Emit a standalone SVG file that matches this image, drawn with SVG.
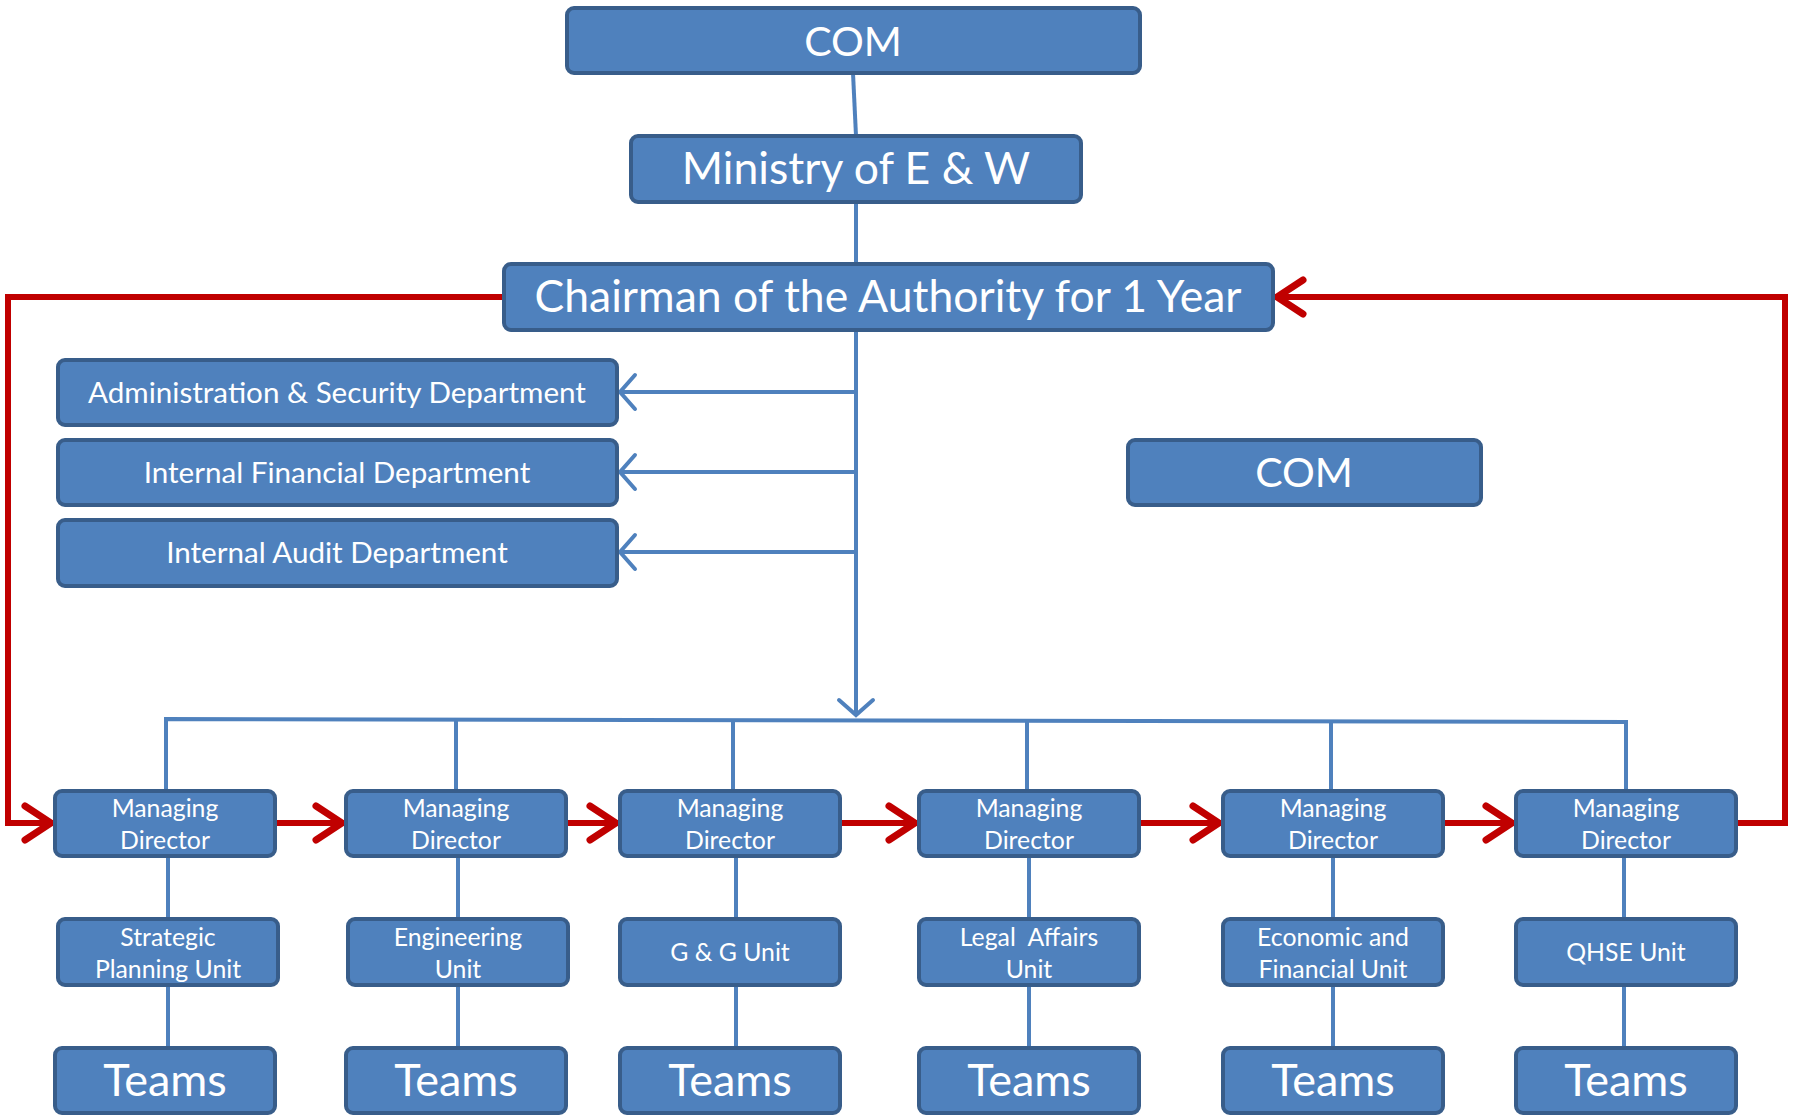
<svg xmlns="http://www.w3.org/2000/svg" width="1797" height="1117" viewBox="0 0 1797 1117">
<defs>
<style>
.box{fill:#4F81BD;stroke:#385D8A;stroke-width:4}
.t{fill:#fff;font-family:Lato,"Open Sans","Noto Sans",sans-serif;text-anchor:middle}
.big{font-size:44.5px}
.com{font-size:41px}
.tm{font-size:45px}
.dept{font-size:29.6px}
.sm{font-size:24.8px}
.blue{stroke:#4F81BD;stroke-width:4;fill:none}
.red{stroke:#C00000;stroke-width:6;fill:none}
</style>
<marker id="ra" viewBox="-36 -24 40 48" refX="2" refY="0" markerWidth="40" markerHeight="48" markerUnits="userSpaceOnUse" orient="auto">
<path d="M-26,-17 L0,0 L-26,17" fill="none" stroke="#C00000" stroke-width="7" stroke-linecap="round"/>
</marker>
<marker id="ba" viewBox="-20 -22 24 44" refX="1" refY="0" markerWidth="24" markerHeight="44" markerUnits="userSpaceOnUse" orient="auto">
<path d="M-15,-17 L0,0 L-15,17" fill="none" stroke="#4F81BD" stroke-width="4" stroke-linecap="round"/>
</marker>
</defs>
<rect width="1797" height="1117" fill="#fff"/>
<g id="connectors">
<line class="blue" x1="853" y1="73" x2="856" y2="136"/>
<line class="blue" x1="856" y1="202" x2="856" y2="264"/>
<line class="blue" x1="856" y1="330" x2="856" y2="716" marker-end="url(#ba)"/>
<line class="blue" x1="856" y1="392" x2="619" y2="392" marker-end="url(#ba)"/>
<line class="blue" x1="856" y1="472" x2="619" y2="472" marker-end="url(#ba)"/>
<line class="blue" x1="856" y1="552" x2="619" y2="552" marker-end="url(#ba)"/>
<polyline class="blue" points="166,791 166,719 1626,722 1626,791"/>
<line class="blue" x1="456" y1="720" x2="456" y2="791"/>
<line class="blue" x1="733" y1="720" x2="733" y2="791"/>
<line class="blue" x1="1027" y1="721" x2="1027" y2="791"/>
<line class="blue" x1="1331" y1="721" x2="1331" y2="791"/>
<line class="blue" x1="168" y1="856" x2="168" y2="919"/>
<line class="blue" x1="168" y1="985" x2="168" y2="1048"/>
<line class="blue" x1="458" y1="856" x2="458" y2="919"/>
<line class="blue" x1="458" y1="985" x2="458" y2="1048"/>
<line class="blue" x1="736" y1="856" x2="736" y2="919"/>
<line class="blue" x1="736" y1="985" x2="736" y2="1048"/>
<line class="blue" x1="1029" y1="856" x2="1029" y2="919"/>
<line class="blue" x1="1029" y1="985" x2="1029" y2="1048"/>
<line class="blue" x1="1333" y1="856" x2="1333" y2="919"/>
<line class="blue" x1="1333" y1="985" x2="1333" y2="1048"/>
<line class="blue" x1="1624" y1="856" x2="1624" y2="919"/>
<line class="blue" x1="1624" y1="985" x2="1624" y2="1048"/>
<polyline class="red" points="504,297 8,297 8,823 53,823" marker-end="url(#ra)"/>
<polyline class="red" points="1736,823 1785,823 1785,297 1275,297" marker-end="url(#ra)"/>
<line class="red" x1="275" y1="823" x2="344" y2="823" marker-end="url(#ra)"/>
<line class="red" x1="566" y1="823" x2="618" y2="823" marker-end="url(#ra)"/>
<line class="red" x1="840" y1="823" x2="917" y2="823" marker-end="url(#ra)"/>
<line class="red" x1="1139" y1="823" x2="1221" y2="823" marker-end="url(#ra)"/>
<line class="red" x1="1443" y1="823" x2="1514" y2="823" marker-end="url(#ra)"/>
</g>
<g id="com-top"><rect class="box" x="567" y="8" width="573" height="65" rx="7"/><text class="t com" x="853" y="56">COM</text></g>
<g id="ministry"><rect class="box" x="631" y="136" width="450" height="66" rx="7"/><text class="t big" x="856" y="184">Ministry of E &amp; W</text></g>
<g id="chairman"><rect class="box" x="504" y="264" width="769" height="66" rx="7"/><text class="t big" x="888" y="312">Chairman of the Authority for 1 Year</text></g>
<g id="admin"><rect class="box" x="58" y="360" width="559" height="65" rx="7"/><text class="t dept" x="337" y="403">Administration &amp; Security Department</text></g>
<g id="fin"><rect class="box" x="58" y="440" width="559" height="65" rx="7"/><text class="t dept" x="337" y="483">Internal Financial Department</text></g>
<g id="audit"><rect class="box" x="58" y="520" width="559" height="66" rx="7"/><text class="t dept" x="337" y="563">Internal Audit Department</text></g>
<g id="com-right"><rect class="box" x="1128" y="440" width="353" height="65" rx="7"/><text class="t com" x="1304" y="487">COM</text></g>
<g id="md1"><rect class="box" x="55" y="791" width="220" height="65" rx="7"/><text class="t sm" x="165" y="817">Managing</text><text class="t sm" x="165" y="849">Director</text></g>
<g id="md2"><rect class="box" x="346" y="791" width="220" height="65" rx="7"/><text class="t sm" x="456" y="817">Managing</text><text class="t sm" x="456" y="849">Director</text></g>
<g id="md3"><rect class="box" x="620" y="791" width="220" height="65" rx="7"/><text class="t sm" x="730" y="817">Managing</text><text class="t sm" x="730" y="849">Director</text></g>
<g id="md4"><rect class="box" x="919" y="791" width="220" height="65" rx="7"/><text class="t sm" x="1029" y="817">Managing</text><text class="t sm" x="1029" y="849">Director</text></g>
<g id="md5"><rect class="box" x="1223" y="791" width="220" height="65" rx="7"/><text class="t sm" x="1333" y="817">Managing</text><text class="t sm" x="1333" y="849">Director</text></g>
<g id="md6"><rect class="box" x="1516" y="791" width="220" height="65" rx="7"/><text class="t sm" x="1626" y="817">Managing</text><text class="t sm" x="1626" y="849">Director</text></g>
<g id="u1"><rect class="box" x="58" y="919" width="220" height="66" rx="7"/><text class="t sm" x="168" y="946">Strategic</text><text class="t sm" x="168" y="978">Planning Unit</text></g>
<g id="u2"><rect class="box" x="348" y="919" width="220" height="66" rx="7"/><text class="t sm" x="458" y="946">Engineering</text><text class="t sm" x="458" y="978">Unit</text></g>
<g id="u3"><rect class="box" x="620" y="919" width="220" height="66" rx="7"/><text class="t sm" x="730" y="961">G &amp; G Unit</text></g>
<g id="u4"><rect class="box" x="919" y="919" width="220" height="66" rx="7"/><text class="t sm" x="1029" y="946">Legal&#160; Affairs</text><text class="t sm" x="1029" y="978">Unit</text></g>
<g id="u5"><rect class="box" x="1223" y="919" width="220" height="66" rx="7"/><text class="t sm" x="1333" y="946">Economic and</text><text class="t sm" x="1333" y="978">Financial Unit</text></g>
<g id="u6"><rect class="box" x="1516" y="919" width="220" height="66" rx="7"/><text class="t sm" x="1626" y="961">QHSE Unit</text></g>
<g id="t1"><rect class="box" x="55" y="1048" width="220" height="65" rx="7"/><text class="t tm" x="165" y="1096">Teams</text></g>
<g id="t2"><rect class="box" x="346" y="1048" width="220" height="65" rx="7"/><text class="t tm" x="456" y="1096">Teams</text></g>
<g id="t3"><rect class="box" x="620" y="1048" width="220" height="65" rx="7"/><text class="t tm" x="730" y="1096">Teams</text></g>
<g id="t4"><rect class="box" x="919" y="1048" width="220" height="65" rx="7"/><text class="t tm" x="1029" y="1096">Teams</text></g>
<g id="t5"><rect class="box" x="1223" y="1048" width="220" height="65" rx="7"/><text class="t tm" x="1333" y="1096">Teams</text></g>
<g id="t6"><rect class="box" x="1516" y="1048" width="220" height="65" rx="7"/><text class="t tm" x="1626" y="1096">Teams</text></g>
</svg>
